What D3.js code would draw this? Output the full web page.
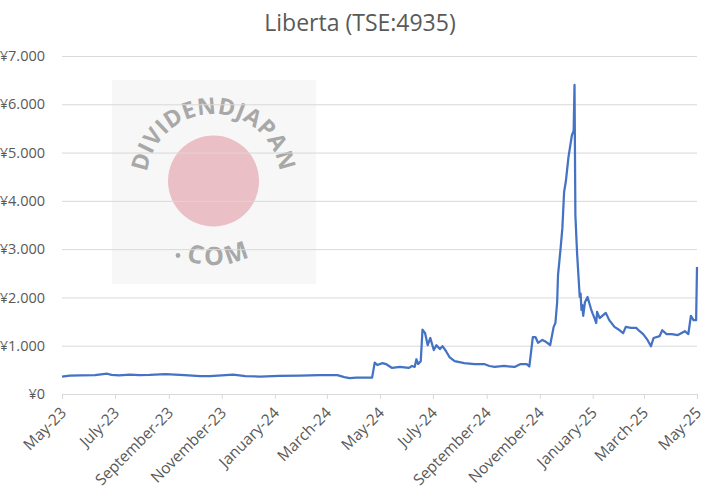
<!DOCTYPE html>
<html>
<head>
<meta charset="utf-8">
<script src="https://cdn.jsdelivr.net/npm/d3@7"></script>
<style>
  html, body { margin: 0; padding: 0; background: #fff; }
  svg { display: block; }
  text { font-family: "Open Sans", "Liberation Sans", sans-serif; }
</style>
</head>
<body>
<svg id="chart" width="719" height="499"></svg>
<script>
// ---------- data ----------
const title = "Liberta (TSE:4935)";

const dates = [
  "2023-05-01","2023-05-10","2023-05-22","2023-06-08","2023-06-22","2023-06-27","2023-07-06","2023-07-18",
  "2023-07-29","2023-08-10","2023-08-28","2023-09-08","2023-09-19","2023-10-07","2023-10-18","2023-11-01",
  "2023-11-14","2023-11-28","2023-12-15","2024-01-06","2024-01-30","2024-02-21","2024-03-13","2024-03-21",
  "2024-03-27","2024-04-04","2024-04-22","2024-04-25","2024-04-28","2024-05-04","2024-05-08","2024-05-15",
  "2024-05-24","2024-06-03","2024-06-07","2024-06-10","2024-06-12","2024-06-14","2024-06-17","2024-06-19",
  "2024-06-22","2024-06-25","2024-06-28","2024-07-02","2024-07-05","2024-07-09","2024-07-12","2024-07-16",
  "2024-07-20","2024-07-26","2024-08-06","2024-08-18","2024-08-29","2024-09-04","2024-09-10","2024-09-21",
  "2024-10-03","2024-10-10","2024-10-17","2024-10-20","2024-10-22","2024-10-24","2024-10-27","2024-10-30",
  "2024-11-04","2024-11-08","2024-11-13","2024-11-17","2024-11-19","2024-11-21","2024-11-22","2024-11-25",
  "2024-11-27","2024-11-29","2024-12-01","2024-12-04","2024-12-08","2024-12-10","2024-12-11","2024-12-12",
  "2024-12-14","2024-12-17","2024-12-18","2024-12-19","2024-12-20","2024-12-21","2024-12-23","2024-12-26",
  "2024-12-30","2025-01-01","2025-01-03","2025-01-05","2025-01-06","2025-01-09","2025-01-16","2025-01-20",
  "2025-01-26","2025-02-01","2025-02-05","2025-02-08","2025-02-14","2025-02-20","2025-02-24","2025-02-28",
  "2025-03-05","2025-03-09","2025-03-12","2025-03-19","2025-03-22","2025-03-27","2025-04-02","2025-04-09",
  "2025-04-17","2025-04-21","2025-04-24","2025-04-27","2025-04-30","2025-05-01"
];

const prices = [
  360, 380, 385, 390, 420, 395, 385, 400,
  390, 395, 410, 400, 390, 370, 370, 385,
  400, 370, 360, 375, 380, 390, 390, 350,
  330, 340, 340, 650, 600, 640, 620, 540,
  560, 540, 580, 560, 720, 620, 680, 1335,
  1260, 1010, 1160, 910, 1010, 930, 990, 890,
  765, 680, 640, 620, 620, 580, 560, 580,
  560, 620, 620, 570, 870, 1180, 1180, 1060,
  1120, 1080, 1015, 1390, 1470, 1900, 2460, 3020,
  3430, 4180, 4400, 4900, 5360, 5450, 6400, 3700,
  2900, 2010, 2080, 1740, 1840, 1620, 1900, 2010,
  1760, 1660, 1570, 1470, 1700, 1570, 1680, 1530,
  1390, 1320, 1260, 1390, 1370, 1370, 1300, 1240,
  1120, 990, 1160, 1200, 1320, 1240, 1240, 1220,
  1300, 1240, 1620, 1530, 1530, 2630
];

const yTicks = [0, 1000, 2000, 3000, 4000, 5000, 6000, 7000];
const xTickDates = [
  "2023-05-01","2023-07-01","2023-09-01","2023-11-01","2024-01-01","2024-03-01",
  "2024-05-01","2024-07-01","2024-09-01","2024-11-01","2025-01-01","2025-03-01","2025-05-01"
];

// ---------- layout ----------
const svg = d3.select("#chart");
const margin = { left: 62, right: 22, top: 56, bottom: 105 };
const W = 719, H = 499;
const parse = d3.timeParse("%Y-%m-%d");

const data = dates.map((d, i) => ({ date: parse(d), value: prices[i] }));

const x = d3.scaleTime()
  .domain([parse("2023-05-01"), parse("2025-05-01")])
  .range([margin.left, W - margin.right]);
const y = d3.scaleLinear()
  .domain([0, 7000])
  .range([H - margin.bottom, margin.top]);

const textColor = "#595959";
const gridColor = "#d9d9d9";

// title
svg.append("text")
  .attr("x", 360).attr("y", 31)
  .attr("text-anchor", "middle")
  .attr("font-size", 23)
  .attr("fill", textColor)
  .text(title);

// watermark (behind grid)
const wm = svg.append("g").attr("class", "watermark");
const cx = 213.5, cy = 181;
wm.append("rect")
  .attr("x", 112).attr("y", 80).attr("width", 204).attr("height", 204)
  .attr("fill", "#f7f7f7");
wm.append("circle")
  .attr("cx", cx).attr("cy", cy).attr("r", 45.5)
  .attr("fill", "#eabfc5");
const rTop = 67, rBot = 84;
wm.append("path").attr("id", "arcTop")
  .attr("d", `M${cx - rTop},${cy} A${rTop},${rTop} 0 0 1 ${cx + rTop},${cy}`)
  .attr("fill", "none");
wm.append("path").attr("id", "arcBot")
  .attr("d", `M${cx - rBot},${cy} A${rBot},${rBot} 0 0 0 ${cx + rBot},${cy}`)
  .attr("fill", "none");
wm.append("text")
  .attr("font-size", 23).attr("font-weight", 700)
  .attr("fill", "#a8a8a8").attr("letter-spacing", 0.5)
  .append("textPath").attr("href", "#arcTop")
  .attr("startOffset", "50%").attr("text-anchor", "middle")
  .text("DIVIDENDJAPAN");
wm.append("text")
  .attr("font-size", 25).attr("font-weight", 700)
  .attr("fill", "#a8a8a8").attr("letter-spacing", 3)
  .append("textPath").attr("href", "#arcBot")
  .attr("startOffset", Math.PI * rBot / 2 + 6).attr("text-anchor", "middle")
  .text("COM");
wm.append("circle")
  .attr("cx", 178).attr("cy", 255.5).attr("r", 2.4)
  .attr("fill", "#a8a8a8");

// gridlines + y labels
const yAxis = d3.axisLeft(y)
  .tickValues(yTicks)
  .tickSize(-(W - margin.left - margin.right))
  .tickPadding(17)
  .tickFormat(v => "¥" + d3.format(",")(v).replace(/,/g, "."));
const gy = svg.append("g")
  .attr("transform", `translate(${margin.left},0)`)
  .call(yAxis);
gy.select(".domain").remove();
gy.selectAll(".tick line").attr("stroke", gridColor).attr("stroke-width", 1);
gy.selectAll(".tick text")
  .attr("fill", textColor)
  .attr("font-size", 14.5)
  .attr("font-family", "'Open Sans', sans-serif");

// x axis
const xAxis = d3.axisBottom(x)
  .tickValues(xTickDates.map(parse))
  .tickSize(5)
  .tickFormat(d3.timeFormat("%B-%y"));
const gx = svg.append("g")
  .attr("transform", `translate(0,${H - margin.bottom})`)
  .call(xAxis);
gx.select(".domain").attr("stroke", gridColor);
gx.selectAll(".tick line").attr("stroke", gridColor);
gx.selectAll(".tick text")
  .attr("fill", textColor)
  .attr("font-size", 15.5)
  .attr("font-family", "'Open Sans', sans-serif")
  .attr("text-anchor", "end")
  .attr("y", 0).attr("dy", "0.35em")
  .attr("transform", "translate(1,16) rotate(-45)");

// line
const line = d3.line()
  .x(d => x(d.date))
  .y(d => y(d.value));
svg.append("path")
  .datum(data)
  .attr("fill", "none")
  .attr("stroke", "#4472c4")
  .attr("stroke-width", 2.25)
  .attr("stroke-linejoin", "round")
  .attr("d", line);
</script>
</body>
</html>
